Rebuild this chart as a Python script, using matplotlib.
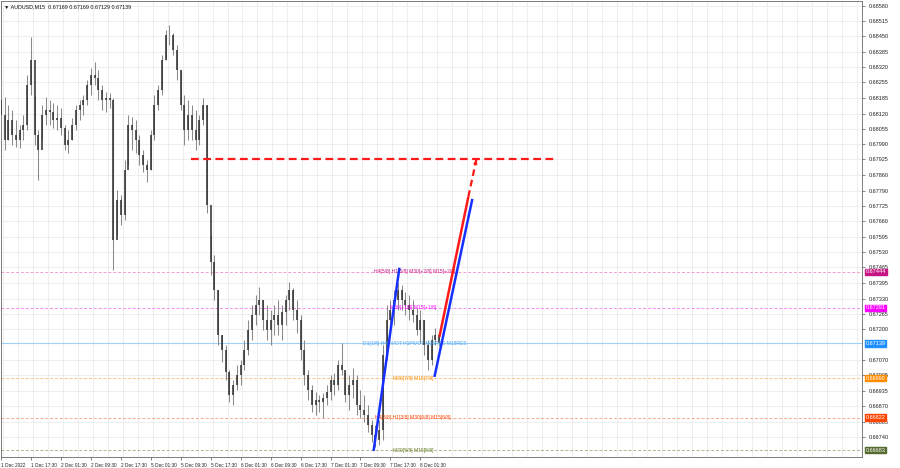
import matplotlib
matplotlib.use("Agg")
import matplotlib.pyplot as plt
import numpy as np

plt.rcParams["font.family"] = ["Liberation Sans", "DejaVu Sans"]

# ==================== Data ====================

chart_title = "AUDUSD,M15  0.67169 0.67169 0.67129 0.67139"

# one candle drawn every 4 M15 bars
bar_step = 4
first_open = 0.68179

highs = [0.68264, 0.68192, 0.68158, 0.68136, 0.68094, 0.68072, 0.68115, 0.68286, 0.68448, 0.68200,
         0.68051, 0.68158, 0.68192, 0.68179, 0.68166, 0.68158, 0.68145, 0.68072, 0.68051, 0.68102,
         0.68158, 0.68179, 0.68200, 0.68264, 0.68316, 0.68341, 0.68307, 0.68243, 0.68213, 0.68209,
         0.68187, 0.67795, 0.67773, 0.67923, 0.68115, 0.68106, 0.68094, 0.68029, 0.67965, 0.67923,
         0.68051, 0.68200, 0.68243, 0.68371, 0.68478, 0.68499, 0.68465, 0.68414, 0.68307, 0.68200,
         0.68179, 0.68158, 0.68136, 0.68115, 0.68187, 0.68158, 0.67603, 0.67517, 0.67368, 0.67176,
         0.67133, 0.67026, 0.66983, 0.67047, 0.67069, 0.67154, 0.67240, 0.67304, 0.67346, 0.67380,
         0.67325, 0.67304, 0.67282, 0.67304, 0.67325, 0.67304, 0.67346, 0.67402, 0.67376, 0.67325,
         0.67261, 0.67154, 0.67026, 0.66962, 0.66932, 0.66919, 0.66928, 0.66962, 0.67005, 0.67013,
         0.67069, 0.67141, 0.67018, 0.67005, 0.67035, 0.67005, 0.66941, 0.66919, 0.66877, 0.66813,
         0.66791, 0.66813, 0.67133, 0.67304, 0.67325, 0.67368, 0.67398, 0.67389, 0.67359, 0.67346,
         0.67325, 0.67291, 0.67282, 0.67240, 0.67154, 0.67176, 0.67205, 0.67169]

lows = [0.68051, 0.67965, 0.68008, 0.67987, 0.67978, 0.67974, 0.68008, 0.68051, 0.68200, 0.67987,
        0.67837, 0.68008, 0.68072, 0.68072, 0.68059, 0.68051, 0.68029, 0.67965, 0.67953, 0.68008,
        0.68051, 0.68094, 0.68115, 0.68158, 0.68200, 0.68243, 0.68179, 0.68136, 0.68128, 0.68145,
        0.67453, 0.67603, 0.67645, 0.67667, 0.67901, 0.67965, 0.67953, 0.67901, 0.67872, 0.67829,
        0.67880, 0.68008, 0.68136, 0.68200, 0.68350, 0.68414, 0.68371, 0.68264, 0.68136, 0.67987,
        0.68008, 0.68008, 0.67965, 0.67987, 0.68072, 0.67696, 0.67432, 0.67325, 0.67133, 0.67060,
        0.66983, 0.66889, 0.66877, 0.66941, 0.66962, 0.67026, 0.67090, 0.67154, 0.67218, 0.67261,
        0.67197, 0.67154, 0.67133, 0.67176, 0.67176, 0.67154, 0.67218, 0.67282, 0.67240, 0.67184,
        0.67069, 0.66962, 0.66898, 0.66847, 0.66834, 0.66847, 0.66821, 0.66877, 0.66898, 0.66919,
        0.66941, 0.67005, 0.66889, 0.66855, 0.66907, 0.66834, 0.66821, 0.66804, 0.66761, 0.66719,
        0.66697, 0.66706, 0.66727, 0.67069, 0.67197, 0.67218, 0.67282, 0.67282, 0.67261, 0.67240,
        0.67231, 0.67176, 0.67141, 0.67090, 0.67026, 0.67047, 0.67133, 0.67129]

closes = [0.68115, 0.68008, 0.68094, 0.68029, 0.68008, 0.68051, 0.68072, 0.68243, 0.68350, 0.68029,
          0.67965, 0.68115, 0.68136, 0.68128, 0.68094, 0.68102, 0.68059, 0.67987, 0.68008, 0.68072,
          0.68136, 0.68158, 0.68179, 0.68243, 0.68286, 0.68273, 0.68222, 0.68179, 0.68187, 0.68179,
          0.67581, 0.67752, 0.67688, 0.67880, 0.68072, 0.68051, 0.68008, 0.67944, 0.67901, 0.67880,
          0.68029, 0.68158, 0.68222, 0.68350, 0.68457, 0.68457, 0.68392, 0.68307, 0.68158, 0.68051,
          0.68115, 0.68051, 0.68008, 0.68094, 0.68158, 0.67731, 0.67487, 0.67368, 0.67176, 0.67112,
          0.67018, 0.66919, 0.66962, 0.67005, 0.67047, 0.67112, 0.67197, 0.67261, 0.67304, 0.67325,
          0.67240, 0.67197, 0.67240, 0.67261, 0.67218, 0.67274, 0.67325, 0.67368, 0.67282, 0.67240,
          0.67112, 0.67005, 0.66941, 0.66877, 0.66898, 0.66889, 0.66907, 0.66932, 0.66983, 0.66962,
          0.67047, 0.67026, 0.66919, 0.66962, 0.66983, 0.66877, 0.66855, 0.66834, 0.66791, 0.66748,
          0.66727, 0.66770, 0.67090, 0.67240, 0.67282, 0.67325, 0.67368, 0.67325, 0.67304, 0.67282,
          0.67261, 0.67197, 0.67240, 0.67133, 0.67069, 0.67154, 0.67176, 0.67139]

# price axis (0.67135 sits under the current-price box)
price_ticks = ["0.68580", "0.68515", "0.68450", "0.68385", "0.68320", "0.68255", "0.68185",
               "0.68120", "0.68055", "0.67990", "0.67925", "0.67860", "0.67790", "0.67725",
               "0.67660", "0.67595", "0.67530", "0.67465", "0.67395", "0.67330", "0.67265",
               "0.67200", "0.67070", "0.67005", "0.66935", "0.66870", "0.66805", "0.66740"]

# time axis (bar index of each label)
time_labels = ["1 Dec 2022", "1 Dec 17:30", "2 Dec 01:30", "2 Dec 09:30", "2 Dec 17:30",
               "5 Dec 01:30", "5 Dec 09:30", "5 Dec 17:30", "6 Dec 01:30", "6 Dec 09:30",
               "6 Dec 17:30", "7 Dec 01:30", "7 Dec 09:30", "7 Dec 17:30", "8 Dec 01:30"]
time_bars = [0, 32, 64, 96, 128, 160, 192, 224, 256, 288, 320, 352, 384, 416, 448]

# Murrey-math style levels
levels = [0.67444, 0.67291, 0.67139, 0.66990, 0.66822, 0.66683]
level_texts = ["H4[5/8] H1[5/8] M30[+2/8] M15[+2/8]",
               "M30[+1/8] M15[+1/8]",
               "D1[1/8] H4PIVOT H1PIVOT M30RES M15RES",
               "M30[7/8] M15[7/8]",
               "H4[3/8] H1[3/8] M30[6/8] M15[6/8]",
               "M30[5/8] M15[5/8]"]
level_text_bars = [398, 416, 387, 419, 400, 419]
level_colors = ["#c71585", "#ff00ff", "#1e90ff", "#ff8c00", "#ff4500", "#556b2f"]
level_line_colors = ["#f59ccf", "#f58cf5", "#9fd0f7", "#f9c48a", "#f7a88e", "#a8b88e"]
level_text_colors = ["#c71585", "#ff00ff", "#4aa3ef", "#ff8c00", "#ff4500", "#6b7f2a"]

# drawn objects (bar index, price)
target_price = 0.67927
target_bars = [203, 593]
blue1_bars, blue1_prices = [398, 425.6], [0.66680, 0.67462]
blue2_bars, blue2_prices = [463, 503.5], [0.66996, 0.67756]
red_bars, red_prices = [468.3, 499.2], [0.67167, 0.67765]
red_arrow_bars, red_arrow_prices = [499.2, 507.7], [0.67765, 0.67923]

# ==================== Chart ====================

fig = plt.figure(figsize=(9, 4.68), dpi=100)
ax = fig.add_axes([0.001, 1 - 457 / 468, 861 / 900, 456 / 468])
ax.set_xlim(0, 919.5)
ax.set_ylim(0.66654, 0.68601)

# grid
ax.set_xticks(np.arange(2, 920, 16), minor=True)
ax.grid(True, which="minor", axis="x", color="#ebebeb", lw=0.6, zorder=0)
ax.grid(True, which="major", axis="y", color="#ebebeb", lw=0.6, zorder=0)
ax.tick_params(axis="x", which="minor", length=0)

# candles
closes_a = np.array(closes)
opens_a = np.array([first_open] + closes[:-1])
xs = np.arange(len(closes)) * bar_step
ax.vlines(xs, lows, highs, color="#8a8a8a", lw=0.75, zorder=3)
ax.vlines(xs, np.minimum(opens_a, closes_a), np.maximum(opens_a, closes_a),
          color="#333333", lw=1.15, zorder=4)

# levels
for lvl, txt, tb, c, lc, tc in zip(levels, level_texts, level_text_bars,
                                   level_colors, level_line_colors, level_text_colors):
    if txt.startswith("D1"):
        ax.axhline(lvl, color=lc, lw=0.8, zorder=2)
    else:
        ax.axhline(lvl, color=lc, lw=0.7, dashes=(3, 2), zorder=2)
    ax.text(tb, lvl, txt, fontsize=3.6, color=tc, va="center", ha="left", zorder=6)
    ax.text(1.004, lvl, f"{lvl:.5f}", transform=ax.get_yaxis_transform(),
            fontsize=4.0, color="white", va="center", ha="left", clip_on=False, zorder=10,
            bbox=dict(boxstyle="square,pad=0.12", fc=c, ec=c))

# trend lines
ax.plot(blue1_bars, blue1_prices, color="#1530ff", lw=1.8, zorder=7, solid_capstyle="butt")
ax.plot(blue2_bars, blue2_prices, color="#1530ff", lw=1.8, zorder=7, solid_capstyle="butt")
ax.plot(red_bars, red_prices, color="#ff1a1a", lw=1.8, zorder=8, solid_capstyle="butt")
ax.plot(red_arrow_bars, red_arrow_prices, color="#ff1a1a", lw=1.6, dashes=(3, 1.8), zorder=8)
ax.annotate("", xy=(red_arrow_bars[1], red_arrow_prices[1]),
            xytext=(red_arrow_bars[1] - 1.2, red_arrow_prices[1] - 0.00022),
            arrowprops=dict(arrowstyle="-|>", color="#ff1a1a", lw=1.0, mutation_scale=5),
            zorder=8)
ax.plot(target_bars, [target_price, target_price], color="#ff1a1a", lw=1.6,
        dashes=(3.5, 2), zorder=8)

# axes / ticks
ax.yaxis.tick_right()
ax.set_yticks([float(v) for v in price_ticks])
ax.set_yticklabels(price_ticks, fontsize=4.0, color="#222222")
ax.tick_params(axis="y", length=2, width=0.5, pad=3, color="#555555")

ax.set_xticks(time_bars)
ax.set_xticklabels(time_labels, fontsize=3.4, color="#222222", ha="left")
ax.tick_params(axis="x", which="major", length=2, width=0.5, pad=2, color="#555555")

for s in ax.spines.values():
    s.set_color("#666666")
    s.set_linewidth(0.6)

ax.text(0.004, 0.992, "\u25bc " + chart_title, transform=ax.transAxes,
        fontsize=3.9, color="#111111", va="top", ha="left", zorder=10)

plt.savefig("out.png", dpi=100)
